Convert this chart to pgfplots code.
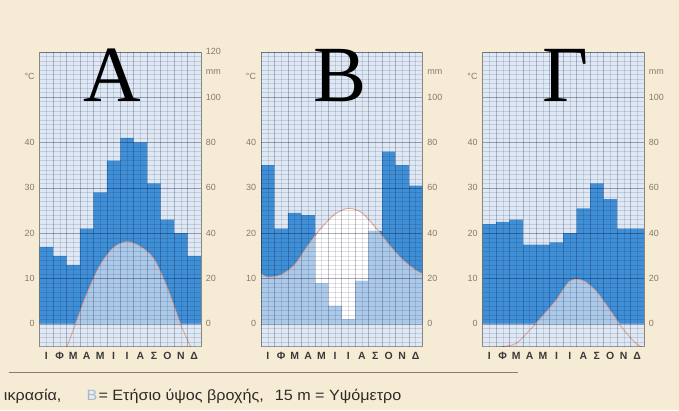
\documentclass[border=0pt]{standalone}
\usepackage{fontspec}
\setmainfont{Liberation Sans}
\newfontfamily\letterfont{Liberation Serif}
\newfontfamily\notefont[FakeStretch=1.08]{Liberation Sans}
\usepackage{pgfplots}
\usepackage{pgfplotstable}
\pgfplotsset{compat=1.18}

\definecolor{paper}{HTML}{F6ECD6}
\definecolor{plotbg}{HTML}{DEE9F5}
\definecolor{rainblue}{HTML}{3F8FD6}
\definecolor{humid}{HTML}{ABCAEA}
\definecolor{tcurve}{HTML}{E2A596}
\definecolor{ticktext}{HTML}{857A6A}
\definecolor{monthtext}{HTML}{3C3A38}
\definecolor{notetext}{HTML}{2E2A26}
\definecolor{rule}{HTML}{8C7F68}
\definecolor{keyblue}{HTML}{9DBBE0}

% monthly rainfall (mm), last row repeats December to close the steps
\pgfplotstableread{
m p
0 34
1 30
2 26
3 42
4 58
5 72
6 82
7 80
8 62
9 46
10 40
11 30
12 30
}\rainA
\pgfplotstableread{
m p
0 70
1 42
2 49
3 48
4 18
5 8
6 2
7 19
8 41
9 76
10 70
11 61
12 61
}\rainB
\pgfplotstableread{
m p
0 44
1 45
2 46
3 35
4 35
5 36
6 40
7 51
8 62
9 55
10 42
11 42
12 42
}\rainG

% monthly mean temperature (C) at month centres, plus year ends
\pgfplotstableread{
x t
0 -8.8
0.5 -11
1.5 -8.5
2.5 -1.4
3.5 6.5
4.5 12.9
5.5 16.8
6.5 18.1
7.5 17
8.5 14.3
9.5 7.9
10.5 -0.2
11.5 -6.6
12 -8.8
}\tempA
\pgfplotstableread{
x t
0 11.05
0.5 10.3
1.5 10.8
2.5 13
3.5 17.3
4.5 21.2
5.5 24.2
6.5 25.5
7.5 24.5
8.5 21.3
9.5 17.5
10.5 14.2
11.5 11.8
12 11.05
}\tempB
\pgfplotstableread{
x t
0 -5.2
0.5 -5.5
1.5 -5
2.5 -4.3
3.5 -1.4
4.5 1.8
5.5 5.3
6.5 9.4
7.5 9.5
8.5 7
9.5 2.9
10.5 -1.3
11.5 -4.5
12 -5.2
}\tempG

\pgfplotsset{
  panel/.style={
    width=162pt, height=296pt, scale only axis, anchor=north west,
    xmin=0, xmax=12,
    /pgf/number format/assume math mode=true,
    major tick length=0pt, minor tick length=0pt,
    tick label style={font=\fontsize{9}{10}\selectfont, text=ticktext},
  },
  climate/.style={
    panel,
    ymin=-5, ymax=60,
    axis background/.style={fill=plotbg},
    axis on top,
    xtick={0,1,...,12}, xticklabels={},
    minor x tick num=1,
    ytick={0,10,...,60}, yticklabels={0,10,20,30,40,{},{}},
    minor ytick={-5,-4,...,60},
    grid=both,
    major grid style={draw=black!85!blue, opacity=0.24, line width=0.5pt},
    minor grid style={draw=black!85!blue, opacity=0.12, line width=0.35pt},
    axis line style={draw=black, opacity=0.25},
    yticklabel style={xshift=-1.5pt},
    extra y ticks={54.5}, extra y tick labels={°C},
    extra y tick style={grid=none},
    extra x ticks={0.5,1.5,...,11.5},
    extra x tick labels={Ι,Φ,Μ,Α,Μ,Ι,Ι,Α,Σ,Ο,Ν,Δ},
    extra x tick style={grid=none,
      tick label style={font=\fontsize{10.5}{11}\selectfont\bfseries, text=monthtext, yshift=-2pt}},
  },
  mmaxis/.style={
    panel,
    ymin=-10, ymax=120,
    axis x line=none, axis y line*=right,
    y axis line style={draw=none},
    yticklabel style={xshift=1.5pt},
    extra y ticks={111}, extra y tick labels={mm},
  },
}

% layers: area under the temperature curve white, rain bars, then the
% overlap of both lightened to the humid tone; below 0 C back to plot colour
\newcommand\climpanel[4]{%
  \begin{axis}[climate, at={(#1pt,360pt)}]
    \addplot[smooth, fill=white, draw=none] table[x=x, y=t] {#3} \closedcycle;
    \addplot[const plot, fill=rainblue, draw=none] table[x=m, y expr=\thisrow{p}/2] {#2} \closedcycle;
    \addplot[smooth, fill=humid, draw=none, blend mode=lighten] table[x=x, y=t] {#3} \closedcycle;
    \addplot[fill=plotbg, draw=none] coordinates {(0,-5) (12,-5) (12,0) (0,0) (0,-5)};
    \addplot[tcurve, line width=0.9pt, smooth] table[x=x, y=t] {#3};
  \end{axis}
  \begin{axis}[mmaxis, at={(#1pt,360pt)}, ytick={#4}]
    \addplot[draw=none] table[x=m, y=p] {#2};
  \end{axis}%
}

\begin{document}
\pagecolor{paper}
\begin{tikzpicture}
  \climpanel{37}{\rainA}{\tempA}{0,20,...,120}
  \climpanel{259.3}{\rainB}{\tempB}{0,20,...,100}
  \climpanel{481.7}{\rainG}{\tempG}{0,20,...,100}

  \begin{scope}[every node/.style={font=\letterfont\fontsize{80}{80}\selectfont, anchor=base, inner sep=0}]
    \node at (109.5pt,310.3pt) {Α};
    \node at (338.5pt,310.3pt) {Β};
    \node at (565pt,310.3pt) {Γ};
  \end{scope}

  \draw[rule, line width=1.3pt] (6pt,38pt) -- (517pt,38pt);
  \begin{scope}[every node/.style={anchor=base west, inner sep=0, font=\notefont\fontsize{15}{16}\selectfont, text=notetext}]
    \node at (1pt,10pt) {ικρασία,};
    \node[text=keyblue] at (84pt,10pt) {Β};
    \node at (96pt,10pt) {= Ετήσιο ύψος βροχής,};
    \node at (273pt,10pt) {15 m = Υψόμετρο};
  \end{scope}
  \pgfresetboundingbox
  \useasboundingbox (0pt,0pt) rectangle (679pt,412pt);
\end{tikzpicture}
\end{document}
